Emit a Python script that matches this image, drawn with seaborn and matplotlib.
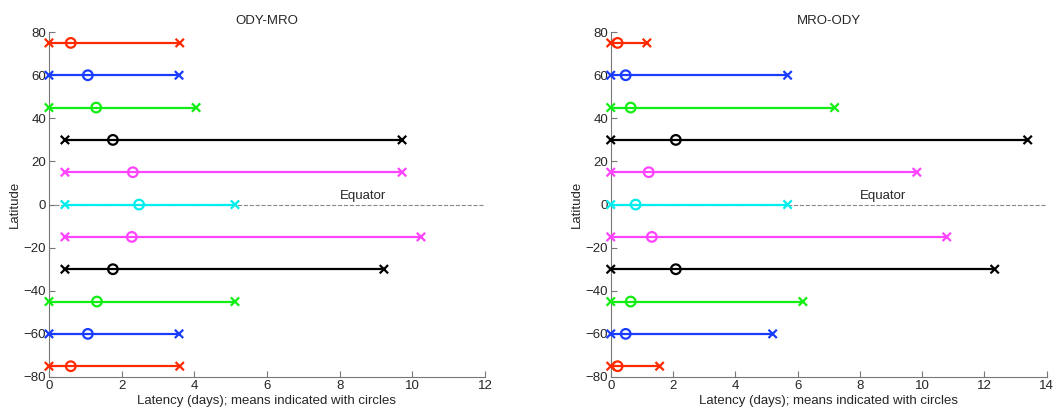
import numpy as np
import pandas as pd
import matplotlib
matplotlib.use("Agg")
import matplotlib.pyplot as plt
import seaborn as sns

lats = [75, 60, 45, 30, 15, 0, -15, -30, -45, -60, -75]
lat_colors = ['#ff2a00', '#1a3cff', '#11ee11', '#000000', '#ff44ff', '#00eeee',
              '#ff44ff', '#000000', '#11ee11', '#1a3cff', '#ff2a00']

# ODY-MRO latencies (days)
ody_min = [0.0, 0.0, 0.0, 0.44, 0.44, 0.44, 0.44, 0.44, 0.0, 0.0, 0.0]
ody_mean = [0.6, 1.07, 1.3, 1.76, 2.31, 2.48, 2.28, 1.76, 1.32, 1.07, 0.6]
ody_max = [3.6, 3.58, 4.05, 9.72, 9.72, 5.12, 10.24, 9.22, 5.12, 3.58, 3.6]

# MRO-ODY latencies (days)
mro_min = [0.0] * 11
mro_mean = [0.22, 0.48, 0.64, 2.09, 1.22, 0.8, 1.32, 2.09, 0.64, 0.48, 0.22]
mro_max = [1.16, 5.68, 7.19, 13.39, 9.83, 5.68, 10.79, 12.33, 6.17, 5.2, 1.57]

sns.set_style("white")
plt.rcParams['font.family'] = ['Liberation Sans', 'DejaVu Sans']
plt.rcParams['font.size'] = 9

fig = plt.figure(figsize=(10.53, 4.12), dpi=100)
ax1 = fig.add_axes([0.0465, 0.085, 0.414, 0.837])
ax2 = fig.add_axes([0.580, 0.085, 0.414, 0.837])

palette = dict(zip(lats, lat_colors))


def draw(ax, mins, means, maxs, xmax, title):
    df = pd.DataFrame({'lat': lats * 2, 'days': mins + maxs})
    dm = pd.DataFrame({'lat': lats, 'days': means})
    ax.plot([0, xmax], [0, 0], ls='--', color='#888888', lw=0.8, zorder=0)
    sns.lineplot(data=df, x='days', y='lat', hue='lat', palette=palette,
                 estimator=None, sort=False, legend=False, lw=1.6, ax=ax)
    sns.scatterplot(data=df, x='days', y='lat', hue='lat', palette=palette,
                    marker='x', s=36, linewidth=1.6, legend=False, ax=ax,
                    zorder=3, clip_on=False)
    ax.scatter(dm['days'], dm['lat'], s=48, facecolors='none',
               edgecolors=[palette[l] for l in lats], linewidths=1.6,
               zorder=4, clip_on=False)
    ax.text(8, 2.5, 'Equator', fontsize=9.5)
    ax.set_xlim(0, xmax)
    ax.set_ylim(-80, 80)
    ax.set_xticks(np.arange(0, xmax + 1, 2))
    ax.set_yticks(np.arange(-80, 81, 20))
    ax.set_title(title, fontsize=9.5)
    ax.set_xlabel('Latency (days); means indicated with circles', fontsize=9.5, labelpad=2)
    ax.set_ylabel('Latitude', fontsize=9.5, labelpad=2)
    for s in ['top', 'right']:
        ax.spines[s].set_visible(False)
    for s in ['left', 'bottom']:
        ax.spines[s].set_color('#777777')
        ax.spines[s].set_linewidth(0.8)
    ax.tick_params(direction='in', length=4, width=0.8, color='#777777',
                   labelsize=9.5, pad=2, left=True, bottom=True)


draw(ax1, ody_min, ody_mean, ody_max, 12, 'ODY-MRO')
draw(ax2, mro_min, mro_mean, mro_max, 14, 'MRO-ODY')

fig.savefig('out.png', dpi=100)
